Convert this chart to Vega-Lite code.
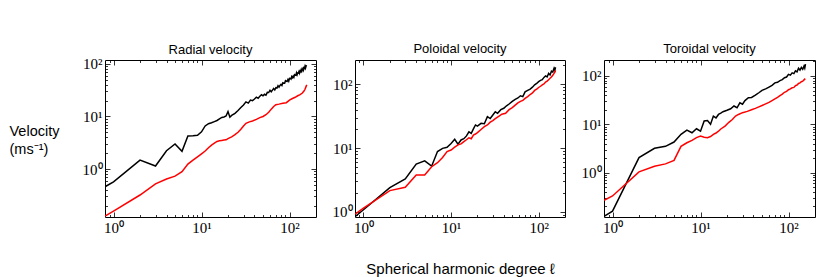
{
  "$schema": "https://vega.github.io/schema/vega-lite/v6.json",
  "padding": {"left": 8, "top": 42, "right": 5, "bottom": 2},
  "config": {
    "view": {"stroke": "#000000", "strokeWidth": 1},
    "font": "Liberation Sans",
    "axis": {
      "grid": false,
      "domain": false,
      "labelFont": "Liberation Serif",
      "labelFontSize": 15,
      "labelColor": "#000000",
      "tickColor": "#000000",
      "tickWidth": 0.8,
      "labelOverlap": false,
      "labelFlush": false,
      "labelPadding": 8
    },
    "title": {"font": "Liberation Sans", "fontSize": 13, "fontWeight": "normal", "color": "#000000", "anchor": "middle", "frame": "group"}
  },
  "data": {"values": [
    {"p":"R","s":"A","l":0.8,"v":0.46},{"p":"R","s":"A","l":1,"v":0.57},{"p":"R","s":"A","l":2,"v":1.48},{"p":"R","s":"A","l":3,"v":1.14},{"p":"R","s":"A","l":4,"v":2.23},{"p":"R","s":"A","l":5,"v":3.0},{"p":"R","s":"A","l":6,"v":2.17},{"p":"R","s":"A","l":7,"v":4.25},{"p":"R","s":"A","l":8,"v":4.3},{"p":"R","s":"A","l":9,"v":4.4},{"p":"R","s":"A","l":10,"v":5.1},{"p":"R","s":"A","l":11,"v":6.6},{"p":"R","s":"A","l":12,"v":7.3},{"p":"R","s":"A","l":13,"v":7.6},{"p":"R","s":"A","l":14,"v":8.0},{"p":"R","s":"A","l":15,"v":8.4},{"p":"R","s":"A","l":16,"v":9.0},{"p":"R","s":"A","l":17,"v":9.6},{"p":"R","s":"A","l":18,"v":9.8},{"p":"R","s":"A","l":19,"v":10.2},{"p":"R","s":"A","l":20,"v":12.4},{"p":"R","s":"A","l":21,"v":9.7},{"p":"R","s":"A","l":22,"v":10.5},{"p":"R","s":"A","l":24,"v":11.5},{"p":"R","s":"A","l":26,"v":13.0},{"p":"R","s":"A","l":28,"v":14.8},{"p":"R","s":"A","l":30,"v":16.5},{"p":"R","s":"A","l":32,"v":19.0},{"p":"R","s":"A","l":34,"v":18.0},{"p":"R","s":"A","l":36,"v":20.5},{"p":"R","s":"A","l":38,"v":20.0},
    {"p":"R","s":"A","l":40,"v":21.5},{"p":"R","s":"A","l":42,"v":23.3},{"p":"R","s":"A","l":44,"v":22.2},{"p":"R","s":"A","l":46,"v":24.3},{"p":"R","s":"A","l":48,"v":25.9},{"p":"R","s":"A","l":50,"v":24.7},{"p":"R","s":"A","l":52,"v":26.5},{"p":"R","s":"A","l":54,"v":25.5},{"p":"R","s":"A","l":56,"v":28.8},{"p":"R","s":"A","l":58,"v":28.6},{"p":"R","s":"A","l":60,"v":31.6},{"p":"R","s":"A","l":62,"v":29.6},{"p":"R","s":"A","l":64,"v":31.8},{"p":"R","s":"A","l":66,"v":34.0},{"p":"R","s":"A","l":68,"v":32.0},{"p":"R","s":"A","l":70,"v":35.3},{"p":"R","s":"A","l":72,"v":34.8},{"p":"R","s":"A","l":74,"v":38.4},{"p":"R","s":"A","l":76,"v":36.2},{"p":"R","s":"A","l":78,"v":39.1},{"p":"R","s":"A","l":80,"v":41.0},{"p":"R","s":"A","l":82,"v":38.9},{"p":"R","s":"A","l":84,"v":43.8},{"p":"R","s":"A","l":86,"v":42.9},{"p":"R","s":"A","l":88,"v":42.8},{"p":"R","s":"A","l":90,"v":48.1},{"p":"R","s":"A","l":92,"v":47.0},{"p":"R","s":"A","l":94,"v":46.6},{"p":"R","s":"A","l":96,"v":50.5},{"p":"R","s":"A","l":98,"v":47.2},{"p":"R","s":"A","l":100,"v":53.3},{"p":"R","s":"A","l":102,"v":52.9},{"p":"R","s":"A","l":104,"v":51.5},{"p":"R","s":"A","l":106,"v":57.6},{"p":"R","s":"A","l":108,"v":54.9},{"p":"R","s":"A","l":110,"v":58.4},{"p":"R","s":"A","l":112,"v":55.7},{"p":"R","s":"A","l":114,"v":62.3},{"p":"R","s":"A","l":116,"v":61.2},{"p":"R","s":"A","l":118,"v":60.8},{"p":"R","s":"A","l":120,"v":67.6},{"p":"R","s":"A","l":122,"v":62.5},{"p":"R","s":"A","l":124,"v":67.7},{"p":"R","s":"A","l":126,"v":67.0},{"p":"R","s":"A","l":128,"v":71.7},{"p":"R","s":"A","l":130,"v":66.8},{"p":"R","s":"A","l":132,"v":73.8},{"p":"R","s":"A","l":134,"v":71.7},{"p":"R","s":"A","l":136,"v":78.2},{"p":"R","s":"A","l":138,"v":73.0},{"p":"R","s":"A","l":140,"v":78.3},{"p":"R","s":"A","l":142,"v":82.2},{"p":"R","s":"A","l":144,"v":76.6},{"p":"R","s":"A","l":146,"v":84.7},{"p":"R","s":"A","l":148,"v":83.0},{"p":"R","s":"A","l":150,"v":90.5},{"p":"R","s":"A","l":152,"v":83.7},{"p":"R","s":"A","l":154,"v":90.6},{"p":"R","s":"A","l":156,"v":95.1},
    {"p":"R","s":"B","l":0.8,"v":0.127},{"p":"R","s":"B","l":1,"v":0.158},{"p":"R","s":"B","l":2,"v":0.32},{"p":"R","s":"B","l":3,"v":0.52},{"p":"R","s":"B","l":4,"v":0.645},{"p":"R","s":"B","l":5,"v":0.73},{"p":"R","s":"B","l":6,"v":0.89},{"p":"R","s":"B","l":7,"v":1.24},{"p":"R","s":"B","l":8,"v":1.48},{"p":"R","s":"B","l":9,"v":1.71},{"p":"R","s":"B","l":10,"v":1.95},{"p":"R","s":"B","l":11,"v":2.2},{"p":"R","s":"B","l":12,"v":2.54},{"p":"R","s":"B","l":13,"v":2.85},{"p":"R","s":"B","l":14,"v":3.1},{"p":"R","s":"B","l":15,"v":3.35},{"p":"R","s":"B","l":16,"v":3.45},{"p":"R","s":"B","l":17,"v":3.5},{"p":"R","s":"B","l":18,"v":3.55},{"p":"R","s":"B","l":19,"v":3.6},{"p":"R","s":"B","l":20,"v":3.8},{"p":"R","s":"B","l":22,"v":4.1},{"p":"R","s":"B","l":24,"v":4.5},{"p":"R","s":"B","l":26,"v":5.0},{"p":"R","s":"B","l":28,"v":5.7},{"p":"R","s":"B","l":30,"v":6.6},{"p":"R","s":"B","l":32,"v":7.4},{"p":"R","s":"B","l":35,"v":7.9},{"p":"R","s":"B","l":38,"v":8.2},{"p":"R","s":"B","l":42,"v":8.8},{"p":"R","s":"B","l":46,"v":9.5},{"p":"R","s":"B","l":50,"v":10.0},{"p":"R","s":"B","l":54,"v":10.8},{"p":"R","s":"B","l":58,"v":12.0},{"p":"R","s":"B","l":62,"v":13.8},{"p":"R","s":"B","l":66,"v":15.5},{"p":"R","s":"B","l":70,"v":16.8},{"p":"R","s":"B","l":76,"v":17.2},{"p":"R","s":"B","l":84,"v":17.9},{"p":"R","s":"B","l":92,"v":18.3},{"p":"R","s":"B","l":100,"v":20.5},{"p":"R","s":"B","l":108,"v":22.0},{"p":"R","s":"B","l":116,"v":23.2},{"p":"R","s":"B","l":124,"v":24.8},{"p":"R","s":"B","l":132,"v":26.0},{"p":"R","s":"B","l":140,"v":28.0},{"p":"R","s":"B","l":146,"v":30.5},{"p":"R","s":"B","l":150,"v":33.0},{"p":"R","s":"B","l":154,"v":37.0},{"p":"R","s":"B","l":157,"v":40.0},
    {"p":"P","s":"A","l":0.8,"v":0.84},{"p":"P","s":"A","l":1,"v":1.08},{"p":"P","s":"A","l":2,"v":2.39},{"p":"P","s":"A","l":3,"v":3.27},{"p":"P","s":"A","l":4,"v":5.6},{"p":"P","s":"A","l":5,"v":6.3},{"p":"P","s":"A","l":6,"v":5.2},{"p":"P","s":"A","l":7,"v":8.8},{"p":"P","s":"A","l":8,"v":9.9},{"p":"P","s":"A","l":9,"v":10.3},{"p":"P","s":"A","l":10,"v":11.8},{"p":"P","s":"A","l":11,"v":13.7},{"p":"P","s":"A","l":12,"v":11.5},{"p":"P","s":"A","l":13,"v":13.4},{"p":"P","s":"A","l":14,"v":14.0},{"p":"P","s":"A","l":15,"v":15.5},{"p":"P","s":"A","l":16,"v":18.0},{"p":"P","s":"A","l":17,"v":17.0},{"p":"P","s":"A","l":18,"v":20.0},{"p":"P","s":"A","l":19,"v":23.0},{"p":"P","s":"A","l":20,"v":22.0},{"p":"P","s":"A","l":22,"v":24.4},{"p":"P","s":"A","l":24,"v":24.0},{"p":"P","s":"A","l":26,"v":31.0},{"p":"P","s":"A","l":28,"v":29.0},{"p":"P","s":"A","l":30,"v":33.0},{"p":"P","s":"A","l":32,"v":37.0},{"p":"P","s":"A","l":34,"v":35.0},{"p":"P","s":"A","l":37,"v":40.0},{"p":"P","s":"A","l":40,"v":42.0},{"p":"P","s":"A","l":43,"v":46.0},{"p":"P","s":"A","l":46,"v":49.0},{"p":"P","s":"A","l":50,"v":54.0},{"p":"P","s":"A","l":54,"v":58.0},{"p":"P","s":"A","l":58,"v":61.0},{"p":"P","s":"A","l":62,"v":66.0},{"p":"P","s":"A","l":66,"v":64.0},{"p":"P","s":"A","l":70,"v":76.0},{"p":"P","s":"A","l":75,"v":80.0},{"p":"P","s":"A","l":80,"v":84.0},{"p":"P","s":"A","l":85,"v":90.0},{"p":"P","s":"A","l":90,"v":98.0},{"p":"P","s":"A","l":95,"v":103.0},{"p":"P","s":"A","l":100,"v":110.0},{"p":"P","s":"A","l":105,"v":115.0},{"p":"P","s":"A","l":110,"v":118.0},{"p":"P","s":"A","l":115,"v":128.0},{"p":"P","s":"A","l":120,"v":135.0},{"p":"P","s":"A","l":125,"v":130.0},{"p":"P","s":"A","l":130,"v":148.0},{"p":"P","s":"A","l":135,"v":140.0},{"p":"P","s":"A","l":140,"v":160.0},{"p":"P","s":"A","l":145,"v":155.0},{"p":"P","s":"A","l":150,"v":178.0},{"p":"P","s":"A","l":153,"v":165.0},{"p":"P","s":"A","l":156,"v":185.0},
    {"p":"P","s":"B","l":0.8,"v":0.92},{"p":"P","s":"B","l":1,"v":1.14},{"p":"P","s":"B","l":2,"v":2.15},{"p":"P","s":"B","l":3,"v":2.42},{"p":"P","s":"B","l":4,"v":3.78},{"p":"P","s":"B","l":5,"v":3.78},{"p":"P","s":"B","l":6,"v":5.1},{"p":"P","s":"B","l":7,"v":5.9},{"p":"P","s":"B","l":8,"v":7.1},{"p":"P","s":"B","l":9,"v":8.8},{"p":"P","s":"B","l":10,"v":9.3},{"p":"P","s":"B","l":11,"v":10.3},{"p":"P","s":"B","l":12,"v":11.2},{"p":"P","s":"B","l":13,"v":11.6},{"p":"P","s":"B","l":14,"v":12.6},{"p":"P","s":"B","l":15,"v":13.5},{"p":"P","s":"B","l":16,"v":14.5},{"p":"P","s":"B","l":17,"v":14.0},{"p":"P","s":"B","l":18,"v":16.0},{"p":"P","s":"B","l":19,"v":16.6},{"p":"P","s":"B","l":20,"v":17.5},{"p":"P","s":"B","l":22,"v":19.5},{"p":"P","s":"B","l":24,"v":21.6},{"p":"P","s":"B","l":26,"v":23.0},{"p":"P","s":"B","l":28,"v":25.5},{"p":"P","s":"B","l":30,"v":27.0},{"p":"P","s":"B","l":32,"v":29.0},{"p":"P","s":"B","l":35,"v":31.5},{"p":"P","s":"B","l":38,"v":34.0},{"p":"P","s":"B","l":42,"v":35.0},{"p":"P","s":"B","l":46,"v":40.0},{"p":"P","s":"B","l":50,"v":43.0},{"p":"P","s":"B","l":54,"v":47.0},{"p":"P","s":"B","l":58,"v":51.0},{"p":"P","s":"B","l":62,"v":54.0},{"p":"P","s":"B","l":66,"v":56.0},{"p":"P","s":"B","l":70,"v":60.0},{"p":"P","s":"B","l":75,"v":64.0},{"p":"P","s":"B","l":80,"v":69.0},{"p":"P","s":"B","l":85,"v":73.0},{"p":"P","s":"B","l":90,"v":80.0},{"p":"P","s":"B","l":95,"v":84.0},{"p":"P","s":"B","l":100,"v":89.0},{"p":"P","s":"B","l":105,"v":93.0},{"p":"P","s":"B","l":110,"v":98.0},{"p":"P","s":"B","l":115,"v":101.0},{"p":"P","s":"B","l":120,"v":108.0},{"p":"P","s":"B","l":125,"v":112.0},{"p":"P","s":"B","l":130,"v":118.0},{"p":"P","s":"B","l":135,"v":124.0},{"p":"P","s":"B","l":140,"v":130.0},{"p":"P","s":"B","l":145,"v":138.0},{"p":"P","s":"B","l":150,"v":148.0},{"p":"P","s":"B","l":154,"v":158.0},{"p":"P","s":"B","l":156,"v":165.0},
    {"p":"T","s":"A","l":0.8,"v":0.125},{"p":"T","s":"A","l":1,"v":0.16},{"p":"T","s":"A","l":2,"v":2.05},{"p":"T","s":"A","l":3,"v":3.2},{"p":"T","s":"A","l":4,"v":3.5},{"p":"T","s":"A","l":5,"v":4.3},{"p":"T","s":"A","l":6,"v":6.2},{"p":"T","s":"A","l":7,"v":7.6},{"p":"T","s":"A","l":8,"v":6.7},{"p":"T","s":"A","l":9,"v":8.1},{"p":"T","s":"A","l":10,"v":7.2},{"p":"T","s":"A","l":11,"v":11.7},{"p":"T","s":"A","l":12,"v":12.0},{"p":"T","s":"A","l":13,"v":10.0},{"p":"T","s":"A","l":14,"v":14.8},{"p":"T","s":"A","l":15,"v":13.6},{"p":"T","s":"A","l":16,"v":16.0},{"p":"T","s":"A","l":17,"v":17.0},{"p":"T","s":"A","l":18,"v":18.2},{"p":"T","s":"A","l":20,"v":19.5},{"p":"T","s":"A","l":22,"v":21.0},{"p":"T","s":"A","l":24,"v":23.9},{"p":"T","s":"A","l":26,"v":22.0},{"p":"T","s":"A","l":28,"v":27.9},{"p":"T","s":"A","l":30,"v":26.0},{"p":"T","s":"A","l":32,"v":31.0},{"p":"T","s":"A","l":35,"v":35.5},{"p":"T","s":"A","l":38,"v":36.0},{"p":"T","s":"A","l":42,"v":40.0},{"p":"T","s":"A","l":46,"v":45.0},{"p":"T","s":"A","l":50,"v":50.5},{"p":"T","s":"A","l":55,"v":54.0},{"p":"T","s":"A","l":60,"v":59.0},{"p":"T","s":"A","l":65,"v":64.0},{"p":"T","s":"A","l":70,"v":72.0},{"p":"T","s":"A","l":75,"v":74.0},{"p":"T","s":"A","l":80,"v":80.0},{"p":"T","s":"A","l":85,"v":84.0},{"p":"T","s":"A","l":90,"v":92.0},{"p":"T","s":"A","l":95,"v":95.0},{"p":"T","s":"A","l":100,"v":108.0},{"p":"T","s":"A","l":105,"v":104.0},{"p":"T","s":"A","l":110,"v":116.0},{"p":"T","s":"A","l":115,"v":112.0},{"p":"T","s":"A","l":120,"v":128.0},{"p":"T","s":"A","l":125,"v":122.0},{"p":"T","s":"A","l":130,"v":144.0},{"p":"T","s":"A","l":135,"v":132.0},{"p":"T","s":"A","l":140,"v":150.0},{"p":"T","s":"A","l":145,"v":138.0},{"p":"T","s":"A","l":150,"v":160.0},{"p":"T","s":"A","l":153,"v":145.0},{"p":"T","s":"A","l":156,"v":175.0},
    {"p":"T","s":"B","l":0.8,"v":0.266},{"p":"T","s":"B","l":1,"v":0.33},{"p":"T","s":"B","l":2,"v":1.04},{"p":"T","s":"B","l":3,"v":1.36},{"p":"T","s":"B","l":4,"v":1.52},{"p":"T","s":"B","l":5,"v":1.79},{"p":"T","s":"B","l":6,"v":3.5},{"p":"T","s":"B","l":7,"v":4.15},{"p":"T","s":"B","l":8,"v":4.65},{"p":"T","s":"B","l":9,"v":5.3},{"p":"T","s":"B","l":10,"v":5.7},{"p":"T","s":"B","l":11,"v":5.4},{"p":"T","s":"B","l":12,"v":5.3},{"p":"T","s":"B","l":13,"v":5.6},{"p":"T","s":"B","l":14,"v":6.2},{"p":"T","s":"B","l":15,"v":6.6},{"p":"T","s":"B","l":16,"v":7.2},{"p":"T","s":"B","l":17,"v":8.0},{"p":"T","s":"B","l":19,"v":9.2},{"p":"T","s":"B","l":21,"v":11.0},{"p":"T","s":"B","l":23,"v":12.6},{"p":"T","s":"B","l":25,"v":14.8},{"p":"T","s":"B","l":27,"v":16.0},{"p":"T","s":"B","l":30,"v":17.4},{"p":"T","s":"B","l":34,"v":18.5},{"p":"T","s":"B","l":38,"v":20.0},{"p":"T","s":"B","l":42,"v":21.4},{"p":"T","s":"B","l":46,"v":23.0},{"p":"T","s":"B","l":50,"v":24.5},{"p":"T","s":"B","l":55,"v":26.5},{"p":"T","s":"B","l":60,"v":28.5},{"p":"T","s":"B","l":65,"v":31.0},{"p":"T","s":"B","l":70,"v":33.5},{"p":"T","s":"B","l":75,"v":36.0},{"p":"T","s":"B","l":80,"v":39.0},{"p":"T","s":"B","l":85,"v":42.0},{"p":"T","s":"B","l":90,"v":46.0},{"p":"T","s":"B","l":95,"v":48.0},{"p":"T","s":"B","l":100,"v":52.0},{"p":"T","s":"B","l":105,"v":54.0},{"p":"T","s":"B","l":110,"v":57.0},{"p":"T","s":"B","l":115,"v":58.0},{"p":"T","s":"B","l":120,"v":63.0},{"p":"T","s":"B","l":125,"v":65.0},{"p":"T","s":"B","l":130,"v":70.0},{"p":"T","s":"B","l":135,"v":72.0},{"p":"T","s":"B","l":140,"v":76.0},{"p":"T","s":"B","l":145,"v":78.0},{"p":"T","s":"B","l":150,"v":83.0},{"p":"T","s":"B","l":155,"v":88.0}
  ]},
  "bounds": "flush",
  "spacing": 39,
  "hconcat": [
    {
      "title": {"text": "Radial velocity", "offset": 0},
      "width": 211, "height": 157,
      "transform": [{"filter": "datum.p == 'R'"}],
      "layer": [
        {
          "mark": {"type": "line", "strokeWidth": 1.5, "clip": true},
          "encoding": {
            "x": {"field": "l", "type": "quantitative", "scale": {"type": "log", "domain": [0.8, 200], "nice": false},
                  "axis": {"title": null, "values": [0.9,1,2,3,4,5,6,7,8,9,10,20,30,40,50,60,70,80,90,100],
                           "labelExpr": "datum.value == 1 ? '10⁰' : datum.value == 10 ? '10¹' : datum.value == 100 ? '10²' : ''",
                           "tickSize": {"condition": {"test": "datum.value == 1 || datum.value == 10 || datum.value == 100", "value": -5}, "value": -2.5}}},
            "y": {"field": "v", "type": "quantitative", "scale": {"type": "log", "domain": [0.122, 119], "nice": false},
                  "axis": {"values": [0.2,0.3,0.4,0.5,0.6,0.7,0.8,0.9,1,2,3,4,5,6,7,8,9,10,20,30,40,50,60,70,80,90,100],
                           "labelExpr": "datum.value == 1 ? '10⁰' : datum.value == 10 ? '10¹' : datum.value == 100 ? '10²' : ''",
                           "tickSize": {"condition": {"test": "datum.value == 1 || datum.value == 10 || datum.value == 100", "value": -5}, "value": -2.5},
                           "title": ["Velocity", "(ms⁻¹)"], "titleAngle": 0, "titleAlign": "left", "titleBaseline": "alphabetic",
                           "titleX": -96, "titleY": 75, "titleFont": "Liberation Sans", "titleFontSize": 14.5, "titleFontWeight": "normal", "titleLineHeight": 18}},
            "color": {"field": "s", "type": "nominal", "scale": {"domain": ["A", "B"], "range": ["#000000", "#ff0000"]}, "legend": null}
          }
        },
        {
          "mark": {"type": "line", "opacity": 0},
          "encoding": {
            "x": {"field": "l", "type": "quantitative",
                  "axis": {"orient": "top", "title": null, "labels": false, "values": [0.9,1,2,3,4,5,6,7,8,9,10,20,30,40,50,60,70,80,90,100],
                           "tickSize": {"condition": {"test": "datum.value == 1 || datum.value == 10 || datum.value == 100", "value": -5}, "value": -2.5}}},
            "y": {"field": "v", "type": "quantitative",
                  "axis": {"orient": "right", "title": null, "labels": false, "values": [0.2,0.3,0.4,0.5,0.6,0.7,0.8,0.9,1,2,3,4,5,6,7,8,9,10,20,30,40,50,60,70,80,90,100],
                           "tickSize": {"condition": {"test": "datum.value == 1 || datum.value == 10 || datum.value == 100", "value": -5}, "value": -2.5}}},
            "detail": {"field": "s"}
          }
        }
      ],
      "resolve": {"axis": {"x": "independent", "y": "independent"}}
    },
    {
      "title": {"text": "Poloidal velocity", "offset": 3.5},
      "width": 210, "height": 157,
      "transform": [{"filter": "datum.p == 'P'"}],
      "layer": [
        {
          "mark": {"type": "line", "strokeWidth": 1.5, "clip": true},
          "encoding": {
            "x": {"field": "l", "type": "quantitative", "scale": {"type": "log", "domain": [0.8, 200], "nice": false},
                  "axis": {"values": [0.9,1,2,3,4,5,6,7,8,9,10,20,30,40,50,60,70,80,90,100],
                           "labelExpr": "datum.value == 1 ? '10⁰' : datum.value == 10 ? '10¹' : datum.value == 100 ? '10²' : ''",
                           "tickSize": {"condition": {"test": "datum.value == 1 || datum.value == 10 || datum.value == 100", "value": -5}, "value": -2.5},
                           "title": "Spherical harmonic degree ℓ", "titleFont": "Liberation Sans", "titleFontSize": 15, "titleFontWeight": "normal",
                           "titleBaseline": "middle", "titleY": 51}},
            "y": {"field": "v", "type": "quantitative", "scale": {"type": "log", "domain": [0.83, 240], "nice": false},
                  "axis": {"title": null, "values": [0.9,1,2,3,4,5,6,7,8,9,10,20,30,40,50,60,70,80,90,100],
                           "labelExpr": "datum.value == 1 ? '10⁰' : datum.value == 10 ? '10¹' : datum.value == 100 ? '10²' : ''",
                           "tickSize": {"condition": {"test": "datum.value == 1 || datum.value == 10 || datum.value == 100", "value": -5}, "value": -2.5}}},
            "color": {"field": "s", "type": "nominal", "scale": {"domain": ["A", "B"], "range": ["#000000", "#ff0000"]}, "legend": null}
          }
        },
        {
          "mark": {"type": "line", "opacity": 0},
          "encoding": {
            "x": {"field": "l", "type": "quantitative",
                  "axis": {"orient": "top", "title": null, "labels": false, "values": [0.9,1,2,3,4,5,6,7,8,9,10,20,30,40,50,60,70,80,90,100],
                           "tickSize": {"condition": {"test": "datum.value == 1 || datum.value == 10 || datum.value == 100", "value": -5}, "value": -2.5}}},
            "y": {"field": "v", "type": "quantitative",
                  "axis": {"orient": "right", "title": null, "labels": false, "values": [0.9,1,2,3,4,5,6,7,8,9,10,20,30,40,50,60,70,80,90,100,200],
                           "tickSize": {"condition": {"test": "datum.value == 1 || datum.value == 10 || datum.value == 100", "value": -5}, "value": -2.5}}},
            "detail": {"field": "s"}
          }
        }
      ],
      "resolve": {"axis": {"x": "independent", "y": "independent"}}
    },
    {
      "title": {"text": "Toroidal velocity", "offset": 3.5},
      "width": 211, "height": 157,
      "transform": [{"filter": "datum.p == 'T'"}],
      "layer": [
        {
          "mark": {"type": "line", "strokeWidth": 1.5, "clip": true},
          "encoding": {
            "x": {"field": "l", "type": "quantitative", "scale": {"type": "log", "domain": [0.8, 200], "nice": false},
                  "axis": {"title": null, "values": [0.9,1,2,3,4,5,6,7,8,9,10,20,30,40,50,60,70,80,90,100],
                           "labelExpr": "datum.value == 1 ? '10⁰' : datum.value == 10 ? '10¹' : datum.value == 100 ? '10²' : ''",
                           "tickSize": {"condition": {"test": "datum.value == 1 || datum.value == 10 || datum.value == 100", "value": -5}, "value": -2.5}}},
            "y": {"field": "v", "type": "quantitative", "scale": {"type": "log", "domain": [0.121, 214], "nice": false},
                  "axis": {"title": null, "values": [0.2,0.3,0.4,0.5,0.6,0.7,0.8,0.9,1,2,3,4,5,6,7,8,9,10,20,30,40,50,60,70,80,90,100],
                           "labelExpr": "datum.value == 1 ? '10⁰' : datum.value == 10 ? '10¹' : datum.value == 100 ? '10²' : ''",
                           "tickSize": {"condition": {"test": "datum.value == 1 || datum.value == 10 || datum.value == 100", "value": -5}, "value": -2.5}}},
            "color": {"field": "s", "type": "nominal", "scale": {"domain": ["A", "B"], "range": ["#000000", "#ff0000"]}, "legend": null}
          }
        },
        {
          "mark": {"type": "line", "opacity": 0},
          "encoding": {
            "x": {"field": "l", "type": "quantitative",
                  "axis": {"orient": "top", "title": null, "labels": false, "values": [0.9,1,2,3,4,5,6,7,8,9,10,20,30,40,50,60,70,80,90,100],
                           "tickSize": {"condition": {"test": "datum.value == 1 || datum.value == 10 || datum.value == 100", "value": -5}, "value": -2.5}}},
            "y": {"field": "v", "type": "quantitative",
                  "axis": {"orient": "right", "title": null, "labels": false, "values": [0.2,0.3,0.4,0.5,0.6,0.7,0.8,0.9,1,2,3,4,5,6,7,8,9,10,20,30,40,50,60,70,80,90,100,200],
                           "tickSize": {"condition": {"test": "datum.value == 1 || datum.value == 10 || datum.value == 100", "value": -5}, "value": -2.5}}},
            "detail": {"field": "s"}
          }
        }
      ],
      "resolve": {"axis": {"x": "independent", "y": "independent"}}
    }
  ]
}
